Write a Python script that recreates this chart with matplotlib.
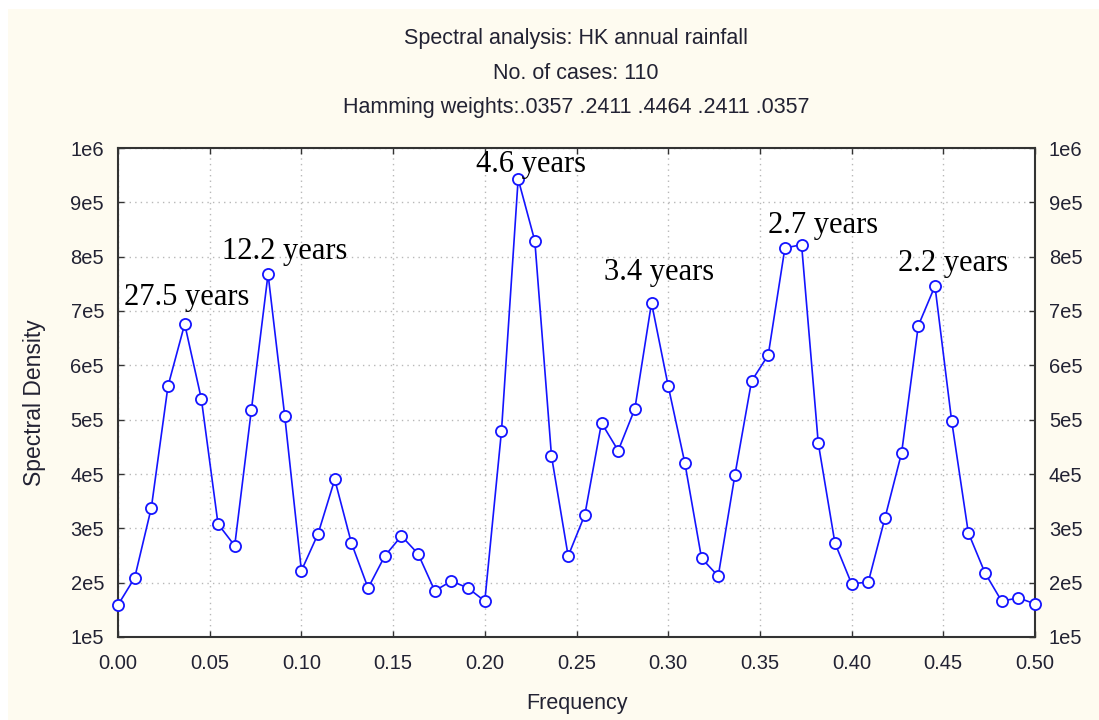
import numpy as np
import matplotlib.pyplot as plt
from matplotlib.patches import Rectangle

n_cases = 110
freq = np.arange(56) / n_cases
density = [1.59e5, 2.09e5, 3.38e5, 5.62e5, 6.76e5, 5.38e5, 3.08e5, 2.68e5,
           5.18e5, 7.68e5, 5.07e5, 2.22e5, 2.90e5, 3.90e5, 2.73e5, 1.90e5,
           2.49e5, 2.86e5, 2.53e5, 1.85e5, 2.03e5, 1.90e5, 1.66e5, 4.79e5,
           9.43e5, 8.29e5, 4.33e5, 2.49e5, 3.25e5, 4.94e5, 4.43e5, 5.20e5,
           7.15e5, 5.62e5, 4.20e5, 2.45e5, 2.12e5, 3.98e5, 5.71e5, 6.19e5,
           8.16e5, 8.22e5, 4.57e5, 2.73e5, 1.98e5, 2.01e5, 3.19e5, 4.39e5,
           6.73e5, 7.46e5, 4.98e5, 2.92e5, 2.18e5, 1.66e5, 1.72e5, 1.61e5]

peak_labels = ["27.5 years", "12.2 years", "4.6 years", "3.4 years", "2.7 years", "2.2 years"]
label_x = [0.0033, 0.0567, 0.1952, 0.265, 0.3544, 0.4253]
label_y = [7.24e5, 8.10e5, 9.69e5, 7.70e5, 8.58e5, 7.87e5]

title_lines = ["Spectral analysis: HK annual rainfall",
               "No. of cases: 110",
               "Hamming weights:.0357 .2411 .4464 .2411 .0357"]

xticks = np.arange(0, 0.501, 0.05)
yticks = np.arange(1e5, 1.0001e6, 1e5)
ytick_labels = ["%de%d" % (int(round(v / 10**int(np.log10(v)))), int(np.log10(v))) for v in yticks]

txt = '#222233'
plt.rcParams['font.family'] = ['Liberation Sans', 'DejaVu Sans']

fig = plt.figure(figsize=(10.99, 7.2), dpi=100)
fig.patch.set_facecolor('white')
fig.patches.append(Rectangle((8 / 1099, 0), 1, 1 - 9 / 720, transform=fig.transFigure,
                             facecolor='#fefbf0', edgecolor='none', zorder=-10))

ax = fig.add_axes([118 / 1099, 1 - 637 / 720, (1035 - 118) / 1099, (637 - 148) / 720])
ax.set_facecolor('white')
ax.plot(freq, density, '-o', color='#1414ff', lw=1.2, ms=8, mfc='white', mec='#1414ff', mew=1.3,
        clip_on=False, zorder=3)

for s, x, y in zip(peak_labels, label_x, label_y):
    ax.text(x, y, s, ha='left', va='center', fontsize=22, family='Liberation Serif',
            color='black', zorder=4)

ax.set_xlim(0, 0.5)
ax.set_ylim(1e5, 1e6)
ax.set_xticks(xticks)
ax.set_xticklabels(["%.2f" % v for v in xticks])
ax.set_yticks(yticks)
ax.set_yticklabels(ytick_labels)
ax.tick_params(direction='in', length=4, width=1, colors='#333333', labelcolor=txt,
               labelsize=14.5, top=True, right=True, labelright=True)
ax.tick_params(axis='x', pad=12)
ax.tick_params(axis='y', pad=10)
ax.grid(True, color='#b8b8b8', linestyle=(0, (1, 3)), lw=1)
for sp in ax.spines.values():
    sp.set_linewidth(1.5)
    sp.set_color('#333333')

ax.set_xlabel("Frequency", fontsize=15.5, color=txt, labelpad=15)
ax.set_ylabel("Spectral Density", fontsize=16.5, color=txt)
ax.yaxis.set_label_coords(-0.078, 0.48)

for line, yb in zip(title_lines, [44, 79, 113]):
    fig.text(576 / 1099, 1 - yb / 720, line, ha='center', va='baseline',
             fontsize=15.5, color=txt)

fig.savefig("out.png", dpi=100, facecolor=fig.get_facecolor())
